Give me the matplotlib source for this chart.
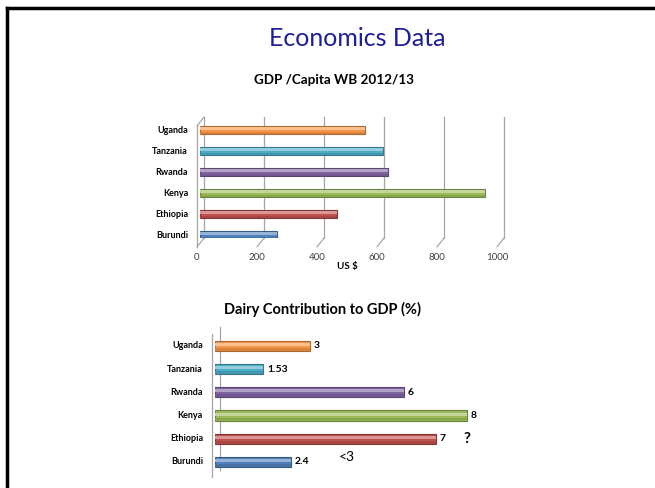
import numpy as np
import matplotlib
matplotlib.use('Agg')
import matplotlib.pyplot as plt
from matplotlib.transforms import ScaledTranslation, blended_transform_factory
from matplotlib.lines import Line2D
from matplotlib.colors import to_rgb

plt.rcParams['font.family'] = ['Lato', 'DejaVu Sans']

countries = ['Burundi', 'Ethiopia', 'Kenya', 'Rwanda', 'Tanzania', 'Uganda']
bar_colors = ['#4F81BD', '#C0504D', '#9BBB59', '#8064A2', '#4BACC6', '#F79646']
gdp_per_capita = [256, 458, 950, 625, 611, 551]
gdp_ticks = [0, 200, 400, 600, 800, 1000]
dairy_share = [2.4, 7, 8, 6, 1.53, 3]
dairy_labels = ['2.4', '7', '8', '6', '1.53', '3']

W, H = 655, 488
fig = plt.figure(figsize=(W / 100, H / 100), dpi=100)


def px_axes(x0, x1, ytop, ybot):
    # axes placed by pixel edges of the slide
    return fig.add_axes([x0 / W, 1 - ybot / H, (x1 - x0) / W, (ybot - ytop) / H])


def shift(ax, dx, dy, trans=None):
    trans = ax.transData if trans is None else trans
    return trans + ScaledTranslation(dx / 100, dy / 100, fig.dpi_scale_trans)


def darker(c, f=0.7):
    r, g, b = to_rgb(c)
    return (r * f, g * f, b * f)


def lighter(c, f=0.4):
    r, g, b = to_rgb(c)
    return (r + (1 - r) * f, g + (1 - g) * f, b + (1 - b) * f)


def tube_bars(ax, vals, h):
    y = np.arange(len(vals))
    for yi, v, c in zip(y, vals, bar_colors):
        ax.barh(yi, v, height=h, color=c, edgecolor=darker(c), linewidth=0.8, zorder=3)
        ax.barh(yi + h * 0.15, v, height=h * 0.3, color=lighter(c), linewidth=0, zorder=4)
        ax.barh(yi - h * 0.33, v, height=h * 0.28, color=darker(c, 0.88), linewidth=0, zorder=4)


# slide frame and titles
fig.add_artist(Line2D([7 / W, 1], [1 - 8 / H, 1 - 8 / H], color='black', lw=2.5))
fig.add_artist(Line2D([7 / W, 7 / W], [1 - 8 / H, 0], color='black', lw=2.5))
fig.text(357 / W, 1 - 38 / H, 'Economics Data', ha='center', va='center',
         fontsize=18, color='#1F1F96')
fig.text(334 / W, 1 - 80 / H, 'GDP /Capita WB 2012/13', ha='center', va='center',
         fontsize=9.7, fontweight='bold')
fig.text(322 / W, 1 - 309 / H, 'Dairy Contribution to GDP (%)', ha='center', va='center',
         fontsize=10.5, fontweight='bold')

# chart 1: GDP per capita, pseudo 3D walls
ax1 = px_axes(200, 500, 117, 238)
ax1.set_xlim(0, 1000)
ax1.set_ylim(-0.14, 5.62)
ax1.axis('off')
tube_bars(ax1, gdp_per_capita, 0.42)
bt = blended_transform_factory(ax1.transData, ax1.transAxes)
grid_c = '#A6A6A6'
for v in gdp_ticks:
    ax1.plot([v, v], [0, 1], color=grid_c, lw=0.9, transform=shift(ax1, 4, 0, bt),
             clip_on=False, zorder=1)
    ax1.annotate('', xy=(v, 0), xycoords=shift(ax1, -3, -9, bt),
                 xytext=(v, 0), textcoords=shift(ax1, 4, 0, bt),
                 arrowprops=dict(arrowstyle='-', color=grid_c, lw=0.9,
                                 shrinkA=0, shrinkB=0))
    ax1.text(v, 0, str(v), transform=shift(ax1, -3, -20, bt), ha='center',
             va='center', fontsize=7, color='#404040')
# left wall front edge
ax1.plot([0, 0], [0, 1], color=grid_c, lw=0.9, transform=shift(ax1, -3, -9, bt),
         clip_on=False)
ax1.annotate('', xy=(0, 1), xycoords=shift(ax1, -3, -9, bt),
             xytext=(0, 1), textcoords=shift(ax1, 4, 0, bt),
             arrowprops=dict(arrowstyle='-', color=grid_c, lw=0.9, shrinkA=0, shrinkB=0))
ax1.text(500, 0, 'US $', transform=shift(ax1, -3, -29, bt), ha='center', va='center',
         fontsize=7, fontweight='bold')
for i, name in enumerate(countries):
    ax1.text(0, i, name, transform=shift(ax1, -12, 0), ha='right', va='center',
             fontsize=6.5, fontweight='bold')

# chart 2: dairy share of GDP
ax2 = px_axes(215, 530, 332, 475)
ax2.set_xlim(0, 10)
ax2.set_ylim(-0.56, 5.6)
ax2.axis('off')
tube_bars(ax2, dairy_share, 0.44)
at2 = ax2.transAxes
ax2.plot([0, 0], [0, 1], color=grid_c, lw=0.9, transform=shift(ax2, -3, -2, at2), clip_on=False)
ax2.plot([0, 0], [0, 1], color=grid_c, lw=0.9, transform=shift(ax2, 5, 5, at2), clip_on=False)
for i, (v, lab) in enumerate(zip(dairy_share, dairy_labels)):
    ax2.text(v, i, lab, transform=shift(ax2, 4, 0), ha='left', va='center',
             fontsize=7.5, fontweight='bold')
for i, name in enumerate(countries):
    ax2.text(0, i, name, transform=shift(ax2, -12, 0), ha='right', va='center',
             fontsize=6.5, fontweight='bold')
ax2.text(8, 1, '?', transform=shift(ax2, 0, 0), ha='center', va='center',
         fontsize=11, fontweight='bold')
ax2.text(4.2, 0, '<3', transform=shift(ax2, 0, 5), ha='center', va='center',
         fontsize=10)

fig.savefig('out.png', dpi=100)
